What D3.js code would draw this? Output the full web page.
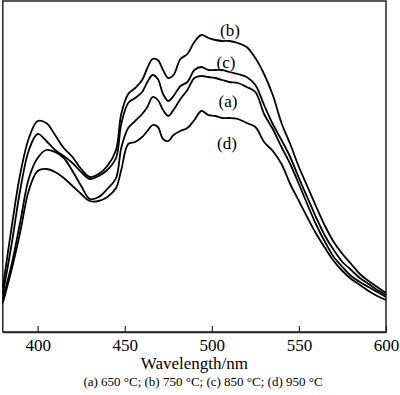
<!DOCTYPE html>
<html>
<head>
<meta charset="utf-8">
<script src="https://cdn.jsdelivr.net/npm/d3@7"></script>
<style>
  body { margin: 0; background: #fff; }
  text { font-family: "Liberation Serif", "DejaVu Serif", serif; fill: #000; }
</style>
</head>
<body>
<svg id="chart"></svg>
<script>
// wavelength grid (nm) and PL intensity (a.u.)
const wavelength = [380,385,390,395,400,405,410,415,420,425,430,435,440,445,448,452,456,460,463,466,469,472,475,478,482,486,490,494,498,502,506,510,515,520,525,530,535,540,545,550,555,560,565,570,575,580,585,590,595,600];

const seriesA = [33,67,110,154,174,182,180,174,161,146,133,135,143,154,184,204,211,218,225,235,232,222,216,222,233,242,254,256,255,254,252,250,249,245,240,218,203,185,168,148,127,107,90,75,65,56,50,45,40,35];
const seriesB = [44,104,158,194,211,209,197,184,175,163,155,158,166,182,218,238,244,252,264,273,272,262,254,257,273,278,290,297,294,292,291,291,289,285,274,258,237,209,188,165,145,125,106,90,78,68,58,51,45,39];
const seriesC = [38,87,142,182,198,191,182,176,169,160,153,156,162,174,208,229,234,240,250,257,253,238,231,236,246,250,262,265,262,262,262,260,258,255,247,227,208,192,175,154,134,114,96,82,70,62,54,48,42,37];
const seriesD = [29,62,100,142,161,163,160,154,146,138,131,131,135,144,162,188,190,195,201,207,205,193,191,197,201,204,212,221,217,216,214,214,213,209,205,190,181,168,148,131,114,98,84,71,61,53,47,41,36,32];

const labels = ["(a)","(b)","(c)","(d)"];
const labelWl = [509.3, 510.4, 508.1, 508.7];
const labelInt = [225, 296.5, 264, 183];
const xTicks = [400,450,500,550,600];

const width = 400, height = 395;
const svg = d3.select("#chart").attr("width", width).attr("height", height);

const x = d3.scaleLinear().domain([380, 600]).range([2.8, 386]);
const y = d3.scaleLinear().domain([0, 331]).range([332, 1]);

// frame
svg.append("rect")
  .attr("x", x(380)).attr("y", y(331))
  .attr("width", x(600) - x(380)).attr("height", y(0) - y(331))
  .attr("fill", "none").attr("stroke", "#222").attr("stroke-width", 1.5);

// bottom axis, ticks pointing inward
const ax = svg.append("g")
  .attr("transform", `translate(0,${y(0)})`)
  .call(d3.axisBottom(x).tickValues(xTicks).tickSizeInner(-6).tickSizeOuter(0).tickPadding(7));
ax.select(".domain").attr("stroke", "#222").attr("stroke-width", 1.5);
ax.selectAll(".tick line").attr("stroke", "#222").attr("stroke-width", 1.2);
ax.selectAll(".tick text").style("font-size", "17px").attr("font-family", null);

const line = d3.line().x(d => x(d[0])).y(d => y(d[1])).curve(d3.curveCatmullRom.alpha(0.5));
[seriesA, seriesB, seriesC, seriesD].forEach(s => {
  svg.append("path")
    .datum(wavelength.map((w, i) => [w, s[i]]))
    .attr("d", line)
    .attr("fill", "none")
    .attr("stroke", "#000")
    .attr("stroke-width", 1.8)
    .attr("stroke-linejoin", "round");
});

svg.append("g").selectAll("text")
  .data(labels)
  .join("text")
  .attr("x", (d, i) => x(labelWl[i]))
  .attr("y", (d, i) => y(labelInt[i]))
  .attr("text-anchor", "middle")
  .style("font-size", "17px")
  .text(d => d);

svg.append("text")
  .attr("x", (x(380) + x(600)) / 2)
  .attr("y", 368.5)
  .attr("text-anchor", "middle")
  .style("font-size", "17px")
  .text("Wavelength/nm");

svg.append("text")
  .attr("x", 203)
  .attr("y", 386)
  .attr("text-anchor", "middle")
  .style("font-size", "13px")
  .text("(a) 650 °C; (b) 750 °C; (c) 850 °C; (d) 950 °C");
</script>
</body>
</html>
